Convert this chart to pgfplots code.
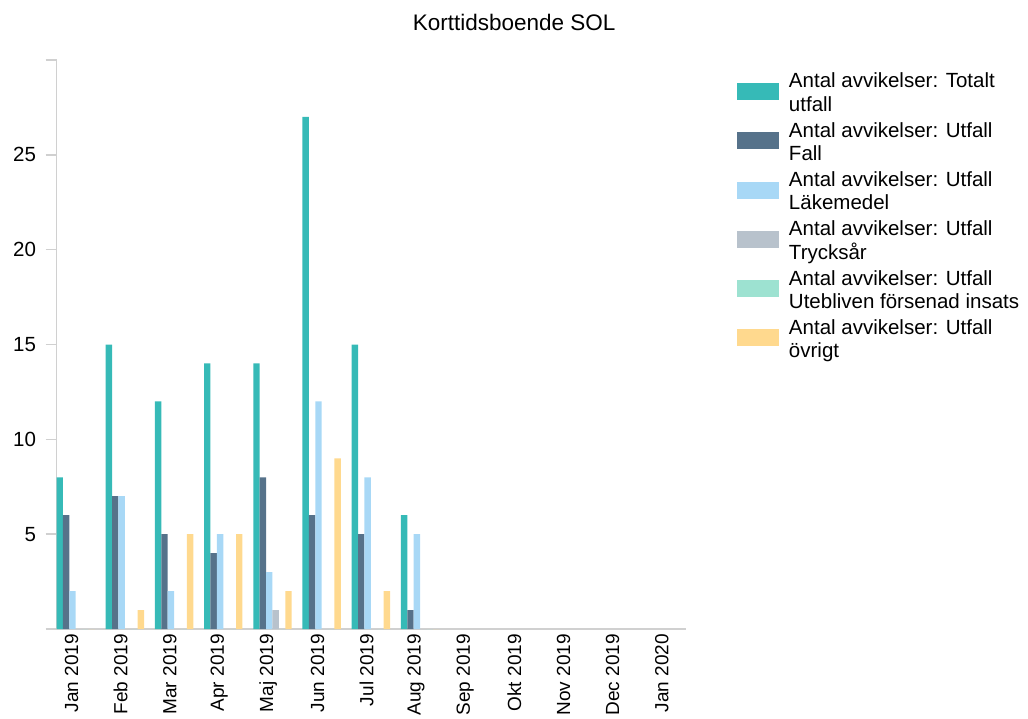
\documentclass[border=0pt]{standalone}
\usepackage{pgfplots}
\pgfplotsset{compat=1.18}
\usepackage{fontspec}
\setmainfont{Liberation Sans}
\definecolor{cTot}{HTML}{36BAB7}
\definecolor{cFall}{HTML}{56728A}
\definecolor{cLak}{HTML}{A8D8F6}
\definecolor{cTry}{HTML}{B8C2CC}
\definecolor{cUte}{HTML}{9DE2D1}
\definecolor{cOvr}{HTML}{FFD98E}
\definecolor{axgray}{HTML}{D0D0D0}
\pgfplotsset{
  mybar/.style={ybar, bar width=0.13, draw=none,
    legend image code/.code={\path[fill=none,draw=none] (0pt,-24.65pt) rectangle (42pt,24.65pt);
      \fill[##1] (0pt,-13.5pt) rectangle (42pt,3.5pt);}},
}
\newcommand{\twol}[2]{\begin{tabular}[c]{@{}l@{}}#1\\#2\end{tabular}}
\begin{document}
\begin{tikzpicture}[font=\fontsize{20.5}{23.5}\selectfont]
\useasboundingbox (0,0) rectangle (1028pt,718pt);
\begin{axis}[
  at={(56.5pt,89pt)}, anchor=south west,
  scale only axis, width=629.5pt, height=569pt,
  xmin=-0.305, xmax=12.49, ymin=0, ymax=30,
  axis x line*=bottom, axis y line*=left,
  axis line style={draw=axgray, line width=1.5pt, -},
  xtick={0,...,12},
  xticklabels={Jan 2019,Feb 2019,Mar 2019,Apr 2019,Maj 2019,Jun 2019,Jul 2019,Aug 2019,Sep 2019,Okt 2019,Nov 2019,Dec 2019,Jan 2020},
  xticklabel style={rotate=90, anchor=east, inner sep=0pt, xshift=6pt, font=\fontsize{19}{22}\selectfont},
  xtick style={draw=none},
  ytick={0,5,10,15,20,25,30},
  yticklabels={{},5,10,15,20,25,{}},
  yticklabel style={xshift=-6pt},
  ytick style={draw=axgray, line width=1.5pt},
  tick align=outside, major tick length=11pt,
  /pgf/number format/assume math mode=true,
  title={Korttidsboende SOL},
  title style={at={(0.727,1.0562)}, anchor=center, inner sep=0pt, font=\fontsize{22.5}{25}\selectfont},
  legend style={at={(1.081,0.9968)}, anchor=north west, draw=none, fill=none,
    inner sep=0pt, outer sep=0pt, row sep=0pt, column sep=10pt,
    nodes={inner sep=0pt}},
  legend cell align=left,
]
\addplot[mybar, fill=cTot, bar shift=-0.24] coordinates {(0,8) (1,15) (2,12) (3,14) (4,14) (5,27) (6,15) (7,6)};
\addlegendentry{\twol{Antal avvikelser: Totalt}{utfall}}
\addplot[mybar, fill=cFall, bar shift=-0.11] coordinates {(0,6) (1,7) (2,5) (3,4) (4,8) (5,6) (6,5) (7,1)};
\addlegendentry{\twol{Antal avvikelser: Utfall}{Fall}}
\addplot[mybar, fill=cLak, bar shift=0.02] coordinates {(0,2) (1,7) (2,2) (3,5) (4,3) (5,12) (6,8) (7,5)};
\addlegendentry{\twol{Antal avvikelser: Utfall}{Läkemedel}}
\addplot[mybar, fill=cTry, bar shift=0.15] coordinates {(0,0) (1,0) (2,0) (3,0) (4,1) (5,0) (6,0) (7,0)};
\addlegendentry{\twol{Antal avvikelser: Utfall}{Trycksår}}
\addplot[mybar, fill=cUte, bar shift=0.28] coordinates {(0,0) (1,0) (2,0) (3,0) (4,0) (5,0) (6,0) (7,0)};
\addlegendentry{\twol{Antal avvikelser: Utfall}{Utebliven försenad insats}}
\addplot[mybar, fill=cOvr, bar shift=0.41] coordinates {(0,0) (1,1) (2,5) (3,5) (4,2) (5,9) (6,2) (7,0)};
\addlegendentry{\twol{Antal avvikelser: Utfall}{övrigt}}
\end{axis}
\end{tikzpicture}
\end{document}
